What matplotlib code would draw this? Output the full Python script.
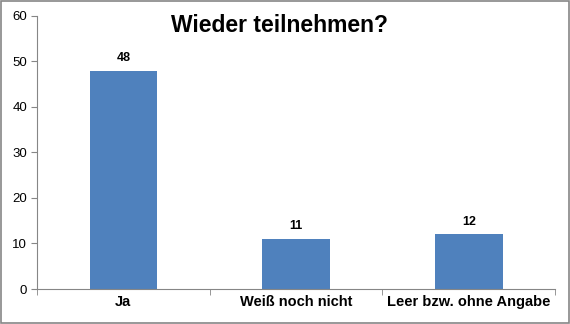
import matplotlib
matplotlib.use("Agg")
import matplotlib.pyplot as plt
from matplotlib.patches import Rectangle

categories = ["Ja", "Weiß noch nicht", "Leer bzw. ohne Angabe"]
values = [48, 11, 12]
y_ticks = [0, 10, 20, 30, 40, 50, 60]

plt.rcParams['font.family'] = ['Liberation Sans', 'DejaVu Sans']

fig = plt.figure(figsize=(5.7, 3.24), dpi=100)
ax = fig.add_axes([0.065, 0.108, 0.909, 0.843])

x = list(range(len(categories)))
bars = ax.bar(x, values, width=0.39, color="#4F81BD", zorder=2)
for b, v in zip(bars, values):
    ax.text(b.get_x() + b.get_width() / 2, v + 1.5, str(v),
            ha="center", va="bottom", fontsize=9, fontweight="bold")

ax.set_xlim(-0.5, len(categories) - 0.5)
ax.set_ylim(0, 60)
ax.set_yticks(y_ticks)
ax.tick_params(axis="y", labelsize=9.5, length=4, color="#868686", pad=3)
ax.set_xticks(x)
ax.set_xticklabels(categories, fontsize=10.5, fontweight="bold")
ax.tick_params(axis="x", which="major", length=0, pad=4)
ax.set_xticks([i - 0.5 for i in range(len(categories) + 1)], minor=True)
ax.tick_params(axis="x", which="minor", length=4, color="#868686")

for s in ["top", "right"]:
    ax.spines[s].set_visible(False)
for s in ["left", "bottom"]:
    ax.spines[s].set_color("#868686")

fig.text(0.491, 0.922, "Wieder teilnehmen?", ha="center", va="center",
         fontsize=16.5, fontweight="bold")

# grey frame round the whole chart
fig.patches.append(Rectangle((0.002, 0.003), 0.996, 0.994, transform=fig.transFigure,
                             fill=False, edgecolor="#868686", linewidth=1.2))

fig.savefig("out.png", dpi=100)
